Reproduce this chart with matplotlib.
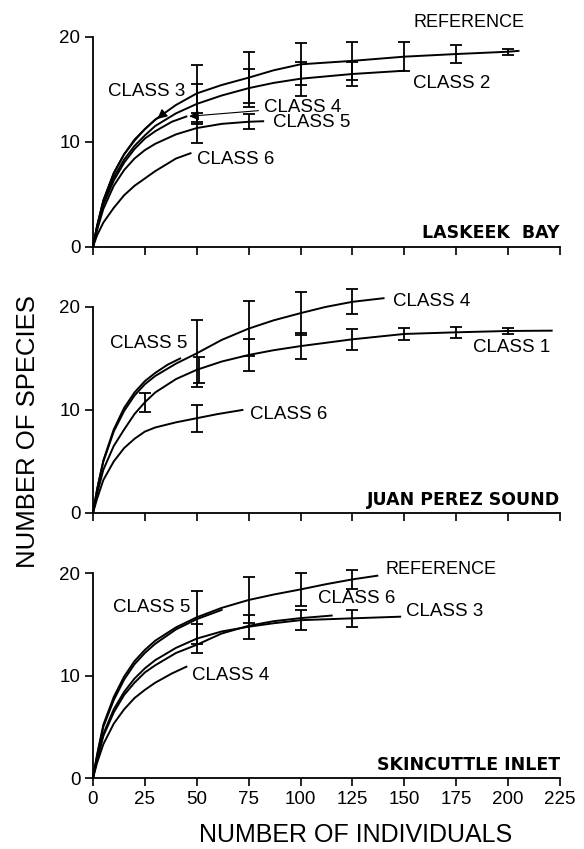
import matplotlib
matplotlib.use('Agg')
import matplotlib.pyplot as plt

plt.rcParams['font.family'] = ['Liberation Sans', 'DejaVu Sans']

# ---- Laskeek Bay (top panel) ----
lb_ref_x = [0, 2, 5, 10, 15, 20, 25, 30, 40, 50, 62, 75, 87, 100, 125, 150, 175, 200, 205]
lb_ref_y = [0, 2.0, 4.4, 7.0, 8.8, 10.1, 11.2, 12.1, 13.5, 14.6, 15.4, 16.1, 16.8, 17.37, 17.7, 18.1, 18.35, 18.57, 18.65]
lb_c2_x = [0, 2, 5, 10, 15, 20, 25, 30, 40, 50, 62, 75, 87, 100, 125, 150]
lb_c2_y = [0, 1.9, 4.2, 6.6, 8.3, 9.6, 10.6, 11.5, 12.7, 13.6, 14.4, 15.1, 15.6, 16.0, 16.45, 16.76]
lb_c3_x = [0, 2, 5, 10, 15, 20, 25, 30, 33]
lb_c3_y = [0, 2.0, 4.4, 7.0, 8.8, 10.2, 11.2, 12.1, 12.5]
lb_c4_x = [0, 2, 5, 10, 15, 20, 25, 30, 38, 45]
lb_c4_y = [0, 1.8, 4.0, 6.3, 8.0, 9.3, 10.3, 11.0, 11.9, 12.4]
lb_c5_x = [0, 2, 5, 10, 15, 20, 25, 30, 40, 50, 62, 75, 82]
lb_c5_y = [0, 1.6, 3.6, 5.8, 7.3, 8.4, 9.2, 9.8, 10.7, 11.3, 11.7, 11.9, 11.95]
lb_c6_x = [0, 2, 5, 10, 15, 20, 25, 30, 40, 47]
lb_c6_y = [0, 1.1, 2.3, 3.7, 4.9, 5.8, 6.5, 7.2, 8.4, 8.9]

lb_ref_ex = [50, 75, 100, 125, 150, 175, 200]
lb_ref_ey = [14.6, 16.1, 17.37, 17.7, 18.1, 18.35, 18.57]
lb_ref_err = [2.7, 2.45, 2.0, 1.8, 1.4, 0.9, 0.3]
lb_c2_ex = [50, 75, 100, 125]
lb_c2_ey = [13.6, 15.1, 16.0, 16.45]
lb_c2_err = [1.9, 1.8, 1.6, 1.15]
lb_c5_ex = [50, 75]
lb_c5_ey = [11.3, 11.9]
lb_c5_err = [1.45, 0.7]

# ---- Juan Perez Sound (middle panel) ----
jp_c1_x = [0, 2, 5, 10, 15, 20, 25, 30, 40, 50, 62, 75, 87, 100, 125, 150, 175, 200, 221]
jp_c1_y = [0, 1.9, 4.2, 6.5, 8.1, 9.6, 10.75, 11.7, 13.0, 13.9, 14.7, 15.34, 15.8, 16.2, 16.86, 17.38, 17.54, 17.67, 17.7]
jp_c4_x = [0, 2, 5, 10, 15, 20, 25, 30, 40, 50, 62, 75, 87, 100, 112, 125, 140]
jp_c4_y = [0, 2.3, 5.0, 7.9, 9.9, 11.4, 12.5, 13.3, 14.5, 15.5, 16.8, 17.9, 18.7, 19.4, 20.0, 20.5, 20.85]
jp_c5_x = [0, 2, 5, 10, 15, 20, 25, 30, 36, 42]
jp_c5_y = [0, 2.3, 5.1, 8.1, 10.2, 11.7, 12.8, 13.6, 14.4, 15.0]
jp_c6_x = [0, 2, 5, 10, 15, 20, 25, 30, 40, 50, 60, 72]
jp_c6_y = [0, 1.4, 3.2, 5.0, 6.3, 7.2, 7.9, 8.3, 8.8, 9.2, 9.6, 10.0]

jp_c1_ex = [25, 51, 75, 100, 125, 150, 175, 200]
jp_c1_ey = [10.75, 13.9, 15.34, 16.2, 16.86, 17.38, 17.54, 17.67]
jp_c1_err = [0.9, 1.25, 1.55, 1.3, 1.0, 0.6, 0.55, 0.3]
jp_c4_ex = [50, 75, 100, 125]
jp_c4_ey = [15.5, 17.9, 19.4, 20.5]
jp_c4_err = [3.25, 2.7, 2.1, 1.2]
jp_c6_ex = [50]
jp_c6_ey = [9.2]
jp_c6_err = [1.3]

# ---- Skincuttle Inlet (bottom panel) ----
si_ref_x = [0, 2, 5, 10, 15, 20, 25, 30, 40, 50, 62, 75, 87, 100, 112, 125, 137]
si_ref_y = [0, 2.3, 5.2, 7.9, 9.9, 11.4, 12.5, 13.4, 14.7, 15.68, 16.6, 17.37, 17.9, 18.4, 18.9, 19.38, 19.74]
si_c5_x = [0, 2, 5, 10, 15, 20, 25, 30, 40, 50, 62]
si_c5_y = [0, 2.2, 5.0, 7.6, 9.6, 11.1, 12.2, 13.1, 14.5, 15.5, 16.4]
si_c3_x = [0, 2, 5, 10, 15, 20, 25, 30, 40, 50, 62, 75, 87, 100, 125, 148]
si_c3_y = [0, 1.9, 4.3, 6.7, 8.4, 9.7, 10.7, 11.5, 12.7, 13.6, 14.3, 14.76, 15.1, 15.4, 15.58, 15.74]
si_c6_x = [0, 2, 5, 10, 15, 20, 25, 30, 40, 50, 62, 75, 87, 100, 115]
si_c6_y = [0, 1.8, 4.1, 6.4, 8.1, 9.3, 10.3, 11.0, 12.2, 13.0, 14.1, 14.85, 15.3, 15.6, 15.85]
si_c4_x = [0, 2, 5, 10, 15, 20, 25, 30, 38, 45]
si_c4_y = [0, 1.5, 3.3, 5.3, 6.7, 7.8, 8.6, 9.3, 10.2, 10.86]

si_ref_ex = [50, 75, 100, 125]
si_ref_ey = [15.68, 17.37, 18.4, 19.38]
si_ref_err = [2.56, 2.2, 1.6, 0.93]
si_c3_ex = [50, 75, 100, 125]
si_c3_ey = [13.6, 14.76, 15.4, 15.58]
si_c3_err = [1.45, 1.15, 0.95, 0.8]

x_ticks = [0, 25, 50, 75, 100, 125, 150, 175, 200, 225]
y_ticks = [0, 10, 20]

LW = 1.4
LABEL_SIZE = 13.5

fig = plt.figure(figsize=(5.84, 8.49), dpi=100)


def make_axes(rect, show_xlabels):
    ax = fig.add_axes(rect)
    ax.set_xlim(0, 225)
    ax.set_ylim(0, 22)
    ax.spines['top'].set_visible(False)
    ax.spines['right'].set_visible(False)
    ax.spines['left'].set_bounds(0, 20)
    ax.spines['left'].set_linewidth(1.3)
    ax.spines['bottom'].set_linewidth(1.3)
    ax.set_xticks(x_ticks)
    ax.set_yticks(y_ticks)
    ax.tick_params(direction='out', length=6, width=1.2, labelsize=13.5, pad=3)
    if not show_xlabels:
        ax.set_xticklabels([])
    return ax


def curve(ax, x, y):
    ax.plot(x, y, color='black', lw=LW, clip_on=False)


def bars(ax, x, y, err):
    ax.errorbar(x, y, yerr=err, fmt='none', ecolor='black', elinewidth=1.3,
                capsize=4, capthick=1.3, clip_on=False)


def label(ax, x, y, s):
    ax.text(x, y, s, fontsize=LABEL_SIZE, ha='left', va='center')


def site(ax, s):
    ax.text(225, 1.3, s, fontsize=12.5, fontweight='bold', family='DejaVu Sans',
            ha='right', va='center')


# top panel
ax1 = make_axes([0.1592, 0.7094, 0.7997, 0.2721], False)
for x, y in [(lb_ref_x, lb_ref_y), (lb_c2_x, lb_c2_y), (lb_c3_x, lb_c3_y),
             (lb_c4_x, lb_c4_y), (lb_c5_x, lb_c5_y), (lb_c6_x, lb_c6_y)]:
    curve(ax1, x, y)
bars(ax1, lb_ref_ex, lb_ref_ey, lb_ref_err)
bars(ax1, lb_c2_ex, lb_c2_ey, lb_c2_err)
bars(ax1, lb_c5_ex, lb_c5_ey, lb_c5_err)
ax1.annotate('', xy=(30, 12.0), xytext=(lb_c3_x[-1], lb_c3_y[-1]),
             arrowprops=dict(arrowstyle='-|>', color='black', lw=1, mutation_scale=14))
ax1.text(154.3, 21.4, 'REFERENCE', fontsize=13, ha='left', va='center')
label(ax1, 154.3, 15.55, 'CLASS 2')
label(ax1, 7.2, 14.8, 'CLASS 3')
ax1.annotate('CLASS 4', xy=(lb_c4_x[-1], lb_c4_y[-1]), xytext=(82.4, 13.3),
             fontsize=LABEL_SIZE, va='center',
             arrowprops=dict(arrowstyle='-|>', color='black', lw=0.8, mutation_scale=14))
label(ax1, 86.5, 11.8, 'CLASS 5')
label(ax1, 50.2, 8.35, 'CLASS 6')
site(ax1, 'LASKEEK  BAY')

# middle panel
ax2 = make_axes([0.1592, 0.3958, 0.7997, 0.2669], False)
for x, y in [(jp_c1_x, jp_c1_y), (jp_c4_x, jp_c4_y), (jp_c5_x, jp_c5_y), (jp_c6_x, jp_c6_y)]:
    curve(ax2, x, y)
bars(ax2, jp_c1_ex, jp_c1_ey, jp_c1_err)
bars(ax2, jp_c4_ex, jp_c4_ey, jp_c4_err)
bars(ax2, jp_c6_ex, jp_c6_ey, jp_c6_err)
label(ax2, 144.7, 20.5, 'CLASS 4')
label(ax2, 183.2, 16.1, 'CLASS 1')
label(ax2, 8.2, 16.5, 'CLASS 5')
label(ax2, 75.6, 9.6, 'CLASS 6')
site(ax2, 'JUAN PEREZ SOUND')

# bottom panel
ax3 = make_axes([0.1592, 0.0836, 0.7997, 0.2656], True)
for x, y in [(si_ref_x, si_ref_y), (si_c5_x, si_c5_y), (si_c3_x, si_c3_y),
             (si_c6_x, si_c6_y), (si_c4_x, si_c4_y)]:
    curve(ax3, x, y)
bars(ax3, si_ref_ex, si_ref_ey, si_ref_err)
bars(ax3, si_c3_ex, si_c3_ey, si_c3_err)
ax3.text(140.7, 20.3, 'REFERENCE', fontsize=13, ha='left', va='center')
label(ax3, 108.5, 17.5, 'CLASS 6')
label(ax3, 150.8, 16.2, 'CLASS 3')
label(ax3, 9.8, 16.65, 'CLASS 5')
label(ax3, 47.5, 10.05, 'CLASS 4')
site(ax3, 'SKINCUTTLE INLET')

# axis titles
fig.text(355.7 / 584, 1 - 835 / 849, 'NUMBER OF INDIVIDUALS', fontsize=18,
         ha='center', va='center')
fig.text(28 / 584, 1 - 432 / 849, 'NUMBER OF SPECIES', fontsize=18.5,
         ha='center', va='center', rotation=90)

fig.savefig('out.png', dpi=100)
